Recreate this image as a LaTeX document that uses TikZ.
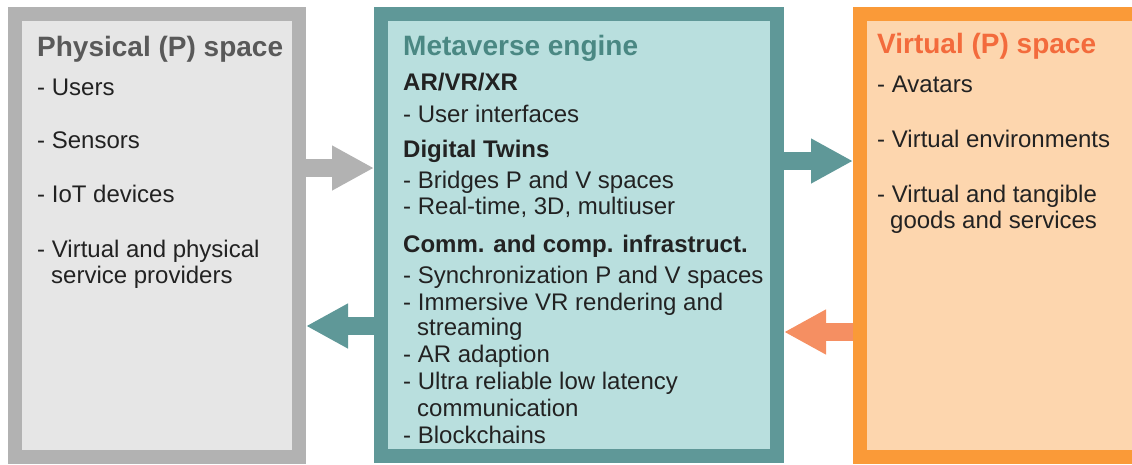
\documentclass[tikz,border=0pt]{standalone}
\usepackage{fontspec}
\setmainfont{Liberation Sans}
\usetikzlibrary{arrows.meta}

\definecolor{pborder}{HTML}{B2B2B2}
\definecolor{pfill}{HTML}{E6E6E6}
\definecolor{ptitle}{HTML}{595959}
\definecolor{eborder}{HTML}{5F9898}
\definecolor{efill}{HTML}{B9DFDE}
\definecolor{etitle}{HTML}{4A8883}
\definecolor{vborder}{HTML}{FA9A38}
\definecolor{vfill}{HTML}{FDD6AE}
\definecolor{vtitle}{HTML}{F36B3C}
\definecolor{varrow}{HTML}{F58F62}
\definecolor{body}{HTML}{222222}

\tikzset{
  panel/.style={draw, line width=14pt, inner sep=0pt, rectangle},
  heading/.style={anchor=base west, inner sep=0pt, font=\fontsize{28}{32}\selectfont\bfseries},
  sub/.style={anchor=base west, inner sep=0pt, text=body, font=\fontsize{24}{27}\selectfont\bfseries},
  item/.style={anchor=base west, inner sep=0pt, text=body, font=\fontsize{24}{27}\selectfont},
  flow/.style={line width=18pt, -{Triangle[length=42pt,width=42pt]}}
}

\begin{document}
\begin{tikzpicture}[x=1pt, y=-1pt]
  \path[use as bounding box, clip] (0,0) rectangle (1132,464);

  % the three panels
  \node[panel, draw=pborder, fill=pfill, minimum width=284pt, minimum height=443pt] (phys) at (157,235.5) {};
  \node[panel, draw=eborder, fill=efill, minimum width=396pt, minimum height=442pt] (engine) at (579,235) {};
  \node[panel, draw=vborder, fill=vfill, minimum width=290pt, minimum height=443pt] (virt) at (1005,235.5) {};

  % flows between the panels
  \draw[flow, pborder] (phys.east |- 0,168) -- (engine.west |- 0,168);
  \draw[flow, eborder] (engine.west |- 0,326) -- (phys.east |- 0,326);
  \draw[flow, eborder] (engine.east |- 0,161) -- (virt.west |- 0,161);
  \draw[flow, varrow] (virt.west |- 0,332) -- (engine.east |- 0,332);

  % physical space
  \node[heading, text=ptitle] (physT) at (37,56) {Physical (P) space};
  \node[item] (p1) at (37,95) {- Users};
  \node[item] (p2) at (37,148) {- Sensors};
  \node[item] (p3) at (37,202) {- IoT devices};
  \node[item] (p4) at (37,257) {- Virtual and physical};
  \node[item] (p4b) at (51,283) {service providers};

  % metaverse engine
  \node[heading, text=etitle] (engT) at (403,55) {Metaverse engine};
  \node[sub] (e1) at (403,90) {AR/VR/XR};
  \node[item] (e1a) at (403,122) {- User interfaces};
  \node[sub] (e2) at (403,157) {Digital Twins};
  \node[item] (e2a) at (403,188) {- Bridges P and V spaces};
  \node[item] (e2b) at (403,214) {- Real-time, 3D, multiuser};
  \node[sub] (e3) at (403,252) {Comm. and comp. infrastruct.};
  \node[item] (e3a) at (403,283) {- Synchronization P and V spaces};
  \node[item] (e3b) at (403,310) {- Immersive VR rendering and};
  \node[item] (e3bb) at (417,335) {streaming};
  \node[item] (e3c) at (403,362) {- AR adaption};
  \node[item] (e3d) at (403,389) {- Ultra reliable low latency};
  \node[item] (e3dd) at (417,416) {communication};
  \node[item] (e3e) at (403,443) {- Blockchains};

  % virtual space
  \node[heading, text=vtitle] (virtT) at (877,53) {Virtual (P) space};
  \node[item] (v1) at (877,92) {- Avatars};
  \node[item] (v2) at (877,147) {- Virtual environments};
  \node[item] (v3) at (877,202) {- Virtual and tangible};
  \node[item] (v3b) at (890,228) {goods and services};
\end{tikzpicture}
\end{document}
